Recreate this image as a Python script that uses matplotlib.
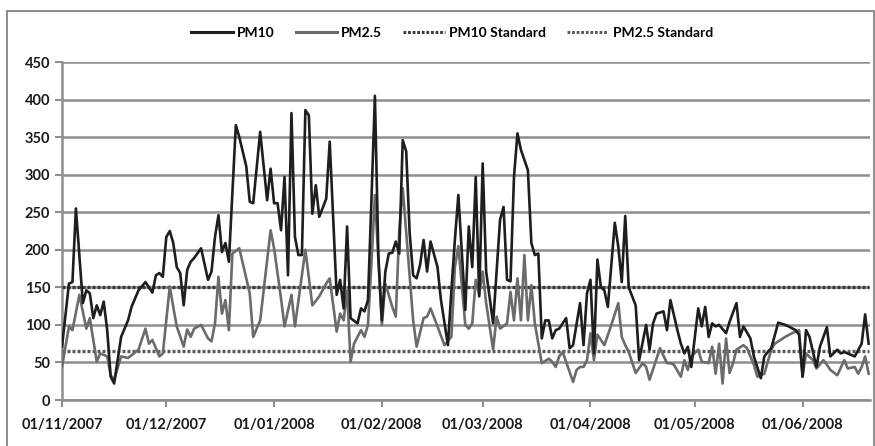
import numpy as np
import matplotlib
matplotlib.use("Agg")
import matplotlib.pyplot as plt
import matplotlib.dates as mdates
from matplotlib.lines import Line2D
from matplotlib.patches import Rectangle

# days since 01/11/2007 and daily mean concentrations (ug/m3)
start = np.datetime64("2007-11-01")

pm10_days = [0, 2, 3, 4, 6, 7, 8, 9, 10, 11, 12, 13, 14, 15, 17, 19, 20, 22, 24, 26,
             27, 28, 29, 30, 31, 32, 33, 34, 35, 36, 37, 38, 40, 42, 43, 44, 45, 46, 47, 48,
             50, 51, 53, 54, 55, 57, 58, 59, 60, 61, 62, 63, 64, 65, 66, 67, 68, 69, 70, 71,
             72, 73, 74, 76, 77, 79, 80, 81, 82, 83, 85, 86, 87, 88, 89, 90, 91, 92, 93, 94,
             95, 96, 97, 98, 99, 100, 101, 102, 103, 104, 105, 106, 108, 109, 111, 112, 113, 114, 116, 117,
             118, 119, 120, 121, 122, 124, 126, 127, 128, 129, 130, 131, 132, 134, 135, 136, 137, 138, 139, 140,
             141, 142, 143, 145, 146, 147, 149, 150, 151, 152, 153, 154, 155, 156, 157, 159, 160, 161, 162, 163,
             164, 165, 166, 168, 169, 170, 171, 173, 174, 175, 177, 178, 179, 180, 181, 183, 184, 185, 186, 187,
             188, 189, 191, 192, 194, 195, 196, 198, 199, 201, 202, 203, 204, 206, 208, 209, 211, 212, 213, 214,
             215, 217, 218, 220, 221, 223, 224, 225, 226, 227, 228, 230, 231, 232]
pm10 = [71, 155, 157, 255, 129, 146, 142, 109, 126, 113, 131, 93, 31, 22, 84, 106, 124, 146, 157, 143,
        166, 169, 164, 217, 225, 209, 177, 169, 126, 173, 184, 189, 202, 160, 171, 217, 246, 197, 209, 184,
        366, 350, 311, 264, 262, 357, 311, 266, 308, 262, 262, 226, 297, 166, 382, 217, 193, 193, 386, 379,
        248, 286, 244, 268, 344, 140, 160, 122, 231, 109, 102, 122, 118, 133, 266, 405, 191, 106, 171, 195,
        196, 211, 195, 346, 331, 222, 166, 162, 180, 213, 171, 211, 177, 133, 73, 146, 213, 273, 120, 231,
        177, 297, 138, 315, 171, 102, 240, 257, 160, 158, 297, 355, 333, 306, 209, 193, 195, 82, 106, 106,
        82, 93, 95, 109, 69, 73, 129, 73, 142, 160, 62, 187, 150, 146, 124, 236, 204, 157, 245, 150,
        138, 126, 53, 100, 67, 102, 115, 118, 93, 133, 93, 75, 62, 71, 44, 122, 98, 124, 84, 102,
        98, 100, 89, 104, 129, 84, 98, 82, 58, 29, 58, 64, 69, 103, 100, 98, 93, 87, 31, 93,
        84, 44, 71, 97, 58, 67, 62, 64, 62, 60, 58, 75, 114, 75]

pm25_days = [0, 2, 3, 5, 7, 8, 10, 11, 12, 13, 14, 15, 17, 19, 22, 24, 25, 26, 28, 29,
             31, 32, 33, 35, 36, 37, 38, 40, 42, 43, 44, 45, 46, 47, 48, 49, 51, 54, 55, 57,
             60, 61, 63, 64, 66, 67, 70, 72, 74, 76, 77, 79, 80, 81, 82, 83, 84, 86, 87, 88,
             89, 90, 92, 93, 95, 96, 97, 98, 100, 101, 102, 104, 105, 106, 108, 110, 112, 113, 114, 116,
             117, 118, 119, 120, 121, 122, 124, 125, 126, 128, 129, 130, 131, 132, 133, 134, 135, 136, 138, 140,
             141, 142, 143, 144, 147, 148, 149, 150, 151, 152, 153, 154, 155, 156, 158, 160, 161, 162, 163, 165,
             167, 168, 169, 172, 174, 175, 176, 178, 179, 180, 181, 183, 184, 186, 187, 188, 189, 190, 191, 192,
             193, 194, 196, 197, 199, 200, 202, 204, 205, 208, 210, 212, 213, 214, 216, 217, 219, 220, 221, 223,
             225, 226, 228, 229, 230, 231, 232]
pm25 = [44, 98, 93, 140, 95, 109, 51, 62, 60, 58, 33, 27, 58, 56, 67, 95, 75, 80, 58, 62,
        151, 124, 98, 71, 94, 84, 95, 100, 82, 78, 102, 164, 115, 133, 93, 195, 202, 142, 84, 106,
        226, 202, 135, 98, 140, 98, 200, 126, 138, 155, 162, 91, 115, 106, 146, 51, 75, 93, 84, 100,
        182, 273, 100, 155, 124, 111, 226, 282, 164, 106, 71, 109, 111, 122, 98, 73, 84, 177, 205, 100,
        95, 102, 160, 140, 171, 129, 67, 111, 95, 102, 144, 106, 162, 106, 193, 106, 153, 102, 49, 55,
        51, 44, 58, 64, 24, 40, 44, 44, 53, 89, 53, 87, 80, 73, 100, 129, 84, 73, 64, 36,
        49, 44, 27, 69, 49, 49, 47, 31, 53, 40, 58, 67, 51, 49, 71, 35, 75, 22, 82, 36,
        49, 67, 73, 69, 47, 31, 35, 67, 75, 84, 89, 93, 31, 62, 53, 42, 53, 47, 40, 33,
        53, 42, 44, 35, 44, 58, 35]

pm10_standard = 150
pm25_standard = 65
n_days = 233

month_ticks = ["2007-11-01", "2007-12-01", "2008-01-01", "2008-02-01",
               "2008-03-01", "2008-04-01", "2008-05-01", "2008-06-01"]
y_ticks = [0, 50, 100, 150, 200, 250, 300, 350, 400, 450]

plt.rcParams["font.family"] = ["Lato", "DejaVu Sans"]

fig = plt.figure(figsize=(8.75, 4.46), dpi=100)
ax = fig.add_axes([62 / 875, 46 / 446, 808 / 875, 338 / 446])

pm10_x = start + np.array(pm10_days).astype("timedelta64[D]")
pm25_x = start + np.array(pm25_days).astype("timedelta64[D]")
all_x = start + np.arange(n_days).astype("timedelta64[D]")

dots = (0, (0.9, 0.6))
ax.plot(all_x, np.full(n_days, pm10_standard), color="#3a3a3a", lw=2.4,
        linestyle=dots, zorder=3)
ax.plot(all_x, np.full(n_days, pm25_standard), color="#5a5a5a", lw=2.4,
        linestyle=dots, zorder=3)
ax.plot(pm25_x, pm25, color="#6b6b6b", lw=1.9, zorder=4)
ax.plot(pm10_x, pm10, color="#1e1e1e", lw=1.9, zorder=5)

ax.set_ylim(0, 450)
ax.set_yticks(y_ticks)
ax.set_xlim(mdates.date2num(start), mdates.date2num(start) + 232.4)
ax.set_xticks(mdates.datestr2num(month_ticks))
ax.xaxis.set_major_formatter(mdates.DateFormatter("%d/%m/%Y"))

ax.grid(axis="y", color="#8e8e8e", lw=1.8)
ax.set_axisbelow(True)
for s in ["top", "right"]:
    ax.spines[s].set_visible(False)
ax.spines["left"].set_color("#8e8e8e")
ax.spines["left"].set_linewidth(1.8)
ax.spines["bottom"].set_color("#8e8e8e")
ax.spines["bottom"].set_linewidth(1.8)
ax.tick_params(axis="both", colors="#8e8e8e", length=5, width=1.5, labelcolor="#1a1a1a",
               labelsize=10.5)
ax.tick_params(axis="x", pad=8)
for lab in ax.get_xticklabels() + ax.get_yticklabels():
    lab.set_fontweight("bold")

handles = [
    Line2D([], [], color="#1e1e1e", lw=2.2),
    Line2D([], [], color="#6b6b6b", lw=2.2),
    Line2D([], [], color="#3a3a3a", lw=2.2, linestyle=dots),
    Line2D([], [], color="#5a5a5a", lw=2.2, linestyle=dots),
]
fig.legend(handles, ["PM10", "PM2.5", "PM10 Standard", "PM2.5 Standard"],
           loc="center", bbox_to_anchor=(452 / 875, 1 - 33 / 446), ncol=4, frameon=False,
           handlelength=3.0, handletextpad=0.3, columnspacing=1.5,
           prop={"size": 10, "weight": "bold"})

fig.patches.append(Rectangle((7 / 875, -0.05), 867 / 875, 1.05 - 11 / 446,
                             transform=fig.transFigure, fill=False,
                             edgecolor="#7a7a7a", lw=1.2))

fig.savefig("out.png", dpi=100)
